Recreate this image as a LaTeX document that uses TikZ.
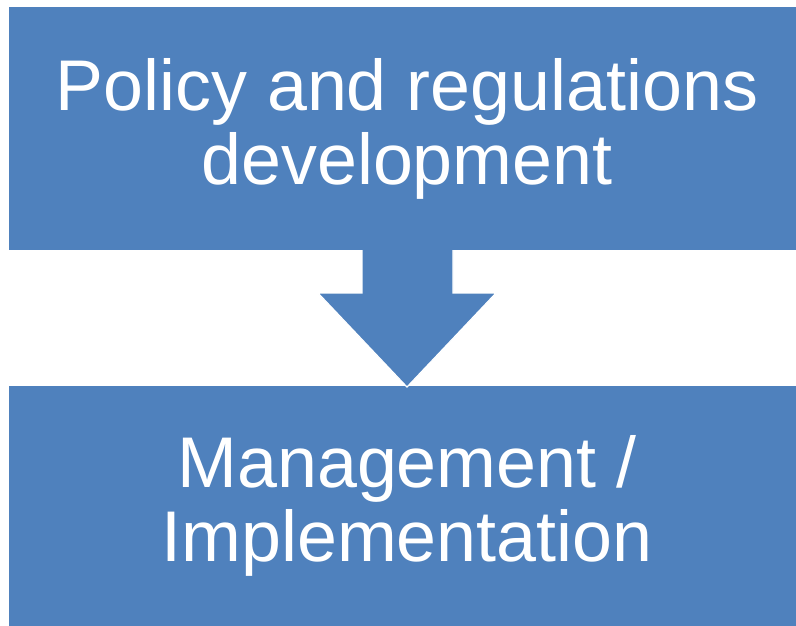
\documentclass[tikz,border=0pt]{standalone}
\usepackage{fontspec}
\setmainfont{Liberation Sans}
\definecolor{boxblue}{HTML}{4F81BD}
\begin{document}
\begin{tikzpicture}[x=1pt,y=-1pt,
  blockbox/.style={fill=boxblue,draw=none,inner sep=0pt,text=white,
    align=center,font=\fontsize{71.8}{74}\selectfont,
    minimum width=796pt},
  downarrow/.style={fill=boxblue,draw=white,line width=1.2pt,line join=miter}]
\useasboundingbox (0,0) rectangle (796,626);
\begin{scope}
\clip (0,0) rectangle (796,626);
% bottom box
\node[blockbox,minimum height=240pt] (bottom) at (407,506) {Management /\\Implementation};
% arrow
\draw[downarrow] (362,244) -- (362,293) -- (318,293) -- (407,387) -- (496,293) -- (453,293) -- (453,244) -- cycle;
% top box
\node[blockbox,minimum height=243pt] (top) at (407,128.5) {Policy and regulations\\development};
\end{scope}
\end{tikzpicture}
\end{document}
